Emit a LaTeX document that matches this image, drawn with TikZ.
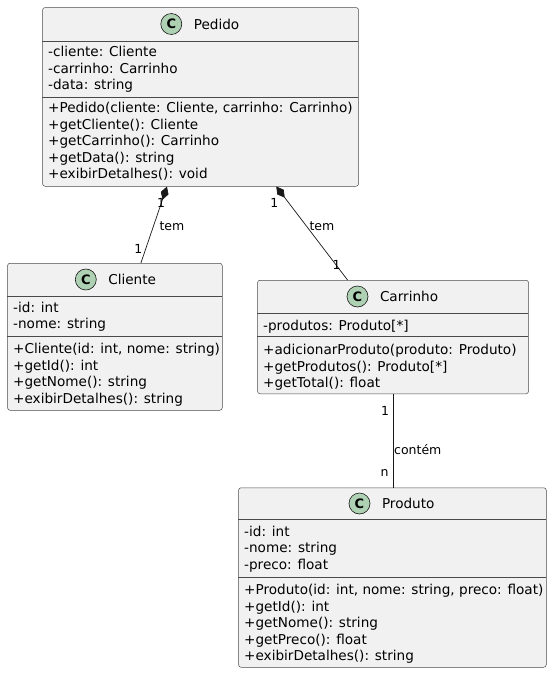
\documentclass[tikz,border=0pt]{standalone}
\usepackage{fontspec}
\setmainfont{DejaVu Sans}
\usetikzlibrary{positioning,calc,arrows.meta}
\definecolor{boxfill}{HTML}{F1F1F1}
\definecolor{boxline}{HTML}{181818}
\definecolor{sepline}{HTML}{4A4A4A}
\definecolor{circfill}{HTML}{ADD1B2}

\begin{document}
\begin{tikzpicture}[x=1pt,y=-1pt,
  box/.style={draw=sepline,fill=boxfill,rounded corners=2.5pt,line width=0.5pt,anchor=north west,inner sep=0pt},
  sep/.style={draw=sepline,line width=0.5pt},
  circ/.style={circle,draw=boxline,fill=circfill,line width=0.6pt,minimum size=21pt,inner sep=0pt,font=\fontsize{13}{13}\selectfont\bfseries},
  title/.style={inner sep=0pt,font=\fontsize{13.6}{16}\selectfont,text height=10pt,text depth=0pt},
  member/.style={inner sep=0pt,anchor=west,font=\fontsize{13.6}{16}\selectfont,text height=9pt,text depth=0pt},
  lbl/.style={inner sep=0pt,font=\fontsize{12.5}{14}\selectfont},
  edge/.style={draw=boxline,line width=0.7pt},
  comp/.style={edge,{Diamond[length=14pt,width=8pt]}-}]
\useasboundingbox (0,0) rectangle (552,673);

% Pedido
\node[box,minimum width=316pt,minimum height=178.7pt] (pedido) at (42.3,7.3) {};
\node[circ] (pedidoC) at (171.3,24) {C};
\node[title,right=11.5pt of pedidoC] (pedidoT) {Pedido};
\draw[sep] (42.3,41.3) -- (358.3,41.3);
\foreach \t [count=\i] in {{-cliente: Cliente},{-carrinho: Carrinho},{-data: string}}
  \node[member] (pedidoA\i) at (48,35.5+16.5*\i) {\t};
\draw[sep] (42.3,97) -- (358.3,97);
\foreach \t [count=\i] in {{+Pedido(cliente: Cliente, carrinho: Carrinho)},{+getCliente(): Cliente},{+getCarrinho(): Carrinho},{+getData(): string},{+exibirDetalhes(): void}}
  \node[member] (pedidoM\i) at (48,91.8+16.5*\i) {\t};

% Cliente
\node[box,minimum width=214.7pt,minimum height=147pt] (cliente) at (7.3,263) {};
\node[circ] (clienteC) at (85.8,279.5) {C};
\node[title,right=11.5pt of clienteC] (clienteT) {Cliente};
\draw[sep] (7.3,296) -- (222,296);
\foreach \t [count=\i] in {{-id: int},{-nome: string}}
  \node[member] (clienteA\i) at (13,291.2+16.5*\i) {\t};
\draw[sep] (7.3,336) -- (222,336);
\foreach \t [count=\i] in {{+Cliente(id: int, nome: string)},{+getId(): int},{+getNome(): string},{+exibirDetalhes(): string}}
  \node[member] (clienteM\i) at (13,332.5+16.5*\i) {\t};

% Carrinho
\node[box,minimum width=271pt,minimum height=113.5pt] (carrinho) at (257.3,280) {};
\node[circ] (carrinhoC) at (357.5,296.5) {C};
\node[title,right=11.5pt of carrinhoC] (carrinhoT) {Carrinho};
\draw[sep] (257.3,313) -- (528.3,313);
\node[member] (carrinhoA1) at (263,325.7) {-produtos: Produto[*]};
\draw[sep] (257.3,336.3) -- (528.3,336.3);
\foreach \t [count=\i] in {{+adicionarProduto(produto: Produto)},{+getProdutos(): Produto[*]},{+getTotal(): float}}
  \node[member] (carrinhoM\i) at (263,333.5+16.5*\i) {\t};

% Produto
\node[box,minimum width=307.7pt,minimum height=179.5pt] (produto) at (238.3,487.5) {};
\node[circ] (produtoC) at (359.5,503.5) {C};
\node[title,right=11.5pt of produtoC] (produtoT) {Produto};
\draw[sep] (238.3,519.5) -- (546,519.5);
\foreach \t [count=\i] in {{-id: int},{-nome: string},{-preco: float}}
  \node[member] (produtoA\i) at (244,515.2+16.5*\i) {\t};
\draw[sep] (238.3,577) -- (546,577);
\foreach \t [count=\i] in {{+Produto(id: int, nome: string, preco: float)},{+getId(): int},{+getNome(): string},{+getPreco(): float},{+exibirDetalhes(): string}}
  \node[member] (produtoM\i) at (244,573.5+16.5*\i) {\t};

% relations
\draw[comp] ([xshift=-33.6pt]pedido.south) -- ([xshift=26pt]cliente.north);
\draw[comp] ([xshift=75.7pt]pedido.south) -- ([xshift=-45.5pt]carrinho.north);
\draw[edge] (carrinho.south) -- (carrinho.south |- produto.north);
\node[lbl] (l1) at (161,203) {1};
\node[lbl,anchor=west] (l2) at (159.3,225.7) {tem};
\node[lbl] (l3) at (138.3,249) {1};
\node[lbl] (l4) at (274.3,203) {1};
\node[lbl,anchor=west] (l5) at (309.3,225.7) {tem};
\node[lbl] (l6) at (336.7,265) {1};
\node[lbl] (l7) at (385,411) {1};
\node[lbl,anchor=west] (l8) at (394,450) {contém};
\node[lbl] (l9) at (384.5,472.7) {n};
\end{tikzpicture}
\end{document}
